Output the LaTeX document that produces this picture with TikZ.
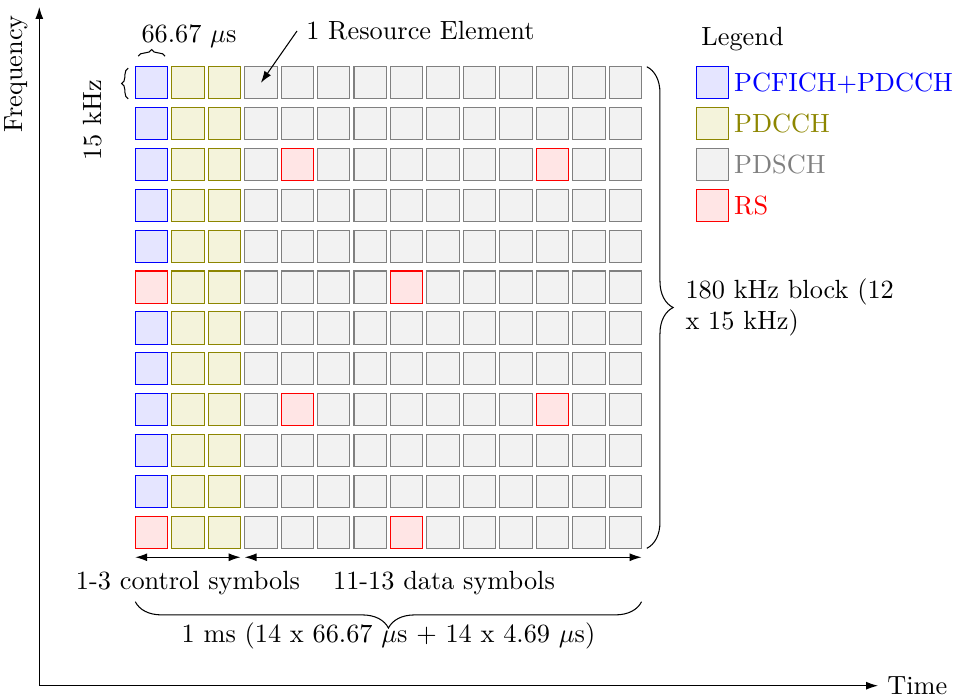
\documentclass[tikz,border=0pt]{standalone}
\usetikzlibrary{decorations.pathreplacing,calc,arrows.meta}
\begin{document}
\begin{tikzpicture}[x=0.38pt,y=-0.38pt,
  cell/.style={draw,minimum width=12.3pt,minimum height=12.25pt,inner sep=0pt,outer sep=0pt},
  ctrl/.style={draw=blue,fill=blue!10},
  pdc/.style={draw=olive,fill=olive!10},
  pds/.style={draw=gray,fill=gray!10},
  rs/.style={draw=red,fill=red!10},
  brc/.style={decorate,decoration={brace}},
  bigbrc/.style={decorate,decoration={brace,amplitude=10pt}},
  arr/.style={-{Latex[length=4.5pt,width=3pt]}},
  dblarr/.style={{Latex[length=4.5pt,width=3pt]}-{Latex[length=4.5pt,width=3pt]}},
]
\useasboundingbox (0,0) rectangle (958,697);

% axes
\coordinate (ytop) at (39.3,7);
\coordinate (xend) at (878,685.7);
\draw[dblarr] (ytop) |- (xend);
\node[anchor=west] (time) at (xend) {Time};
\node[rotate=90] (freq) at (16.7,74) {Frequency};

% grid of resource elements
\foreach \r in {0,...,11}{
  \foreach \c in {0,...,13}{
    \pgfmathtruncatemacro\m{mod(\r,6)}
    \def\st{pds}
    \ifnum\c<3 \def\st{pdc}\fi
    \ifnum\c=0 \def\st{ctrl}\fi
    \ifnum\m=5
      \ifnum\c=0 \def\st{rs}\fi
      \ifnum\c=7 \def\st{rs}\fi
    \fi
    \ifnum\m=2
      \ifnum\c=4 \def\st{rs}\fi
      \ifnum\c=11 \def\st{rs}\fi
    \fi
    \node[cell,\st] (c-\r-\c) at ({151.5+36.45*\c},{82.85+40.85*\r}) {};
  }
}

% top labels
\node (ts) at (189,36.4) {66.67 $\mu$s};
\draw[brc] ([xshift=1.1pt,yshift=4pt]c-0-0.north west) -- ([xshift=-1pt,yshift=4pt]c-0-0.north east);
\node[rotate=90] (fk) at (93,120) {15 kHz};
\draw[brc] ([xshift=-2.7pt]c-0-0.south west) -- ([xshift=-2.7pt,yshift=-0.5pt]c-0-0.north west);
\node[anchor=west] (re) at (297,31) {1 Resource Element};
\draw[arr] (re.west) -- (c-0-3.center);

% right brace
\draw[bigbrc] ([xshift=2pt]c-0-13.north east) -- ([xshift=2pt]c-11-13.south east);
\node[anchor=west,text width=84pt,align=left,inner sep=0pt] (blk) at (685,307.5) {180 kHz block (12 x 15 kHz)};

% bottom arrows and labels
\draw[dblarr] ([yshift=-3.4pt]c-11-0.south west) -- ([yshift=-3.4pt]c-11-2.south east);
\draw[dblarr] ([yshift=-3.4pt]c-11-3.south west) -- ([yshift=-3.4pt]c-11-13.south east);
\node (ctl) at (188,583.4) {1-3 control symbols};
\node (dat) at (444,583.4) {11-13 data symbols};
\draw[bigbrc] ([yshift=-20.3pt]c-11-13.south east) -- ([yshift=-20.3pt]c-11-0.south west);
\node (ms) at (388.5,636.4) {1 ms (14 x 66.67 $\mu$s + 14 x 4.69 $\mu$s)};

% legend
\node (lg) at (742.5,39.4) {Legend};
\node[cell,ctrl] (l1) at (712.2,82.85) {};
\node[cell,pdc] (l2) at (712.2,123.7) {};
\node[cell,pds] (l3) at (712.2,164.55) {};
\node[cell,rs] (l4) at (712.2,205.4) {};
\node[anchor=west,inner sep=0pt,text=blue] (t1) at ([xshift=2pt]l1.east) {PCFICH+PDCCH};
\node[anchor=west,inner sep=0pt,text=olive] (t2) at ([xshift=2pt]l2.east) {PDCCH};
\node[anchor=west,inner sep=0pt,text=gray] (t3) at ([xshift=2pt]l3.east) {PDSCH};
\node[anchor=west,inner sep=0pt,text=red] (t4) at ([xshift=2pt]l4.east) {RS};
\end{tikzpicture}
\end{document}
